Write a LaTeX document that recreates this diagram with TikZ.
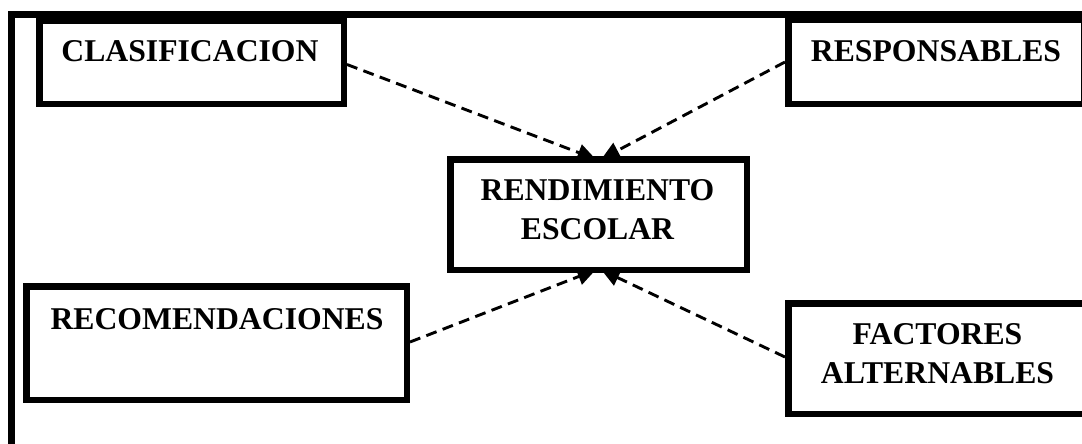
\documentclass[tikz,border=0pt]{standalone}
\usepackage{fontspec}
\setmainfont{Liberation Serif}
\usetikzlibrary{arrows.meta}
\begin{document}
\begin{tikzpicture}[x=1pt,y=-1pt,
  boxnode/.style={draw=black, line width=6.5pt, rectangle, inner sep=0pt},
  txt/.style={font=\bfseries\fontsize{31.7}{39}\selectfont, align=center, inner sep=0pt},
  conn/.style={draw=black, line width=2.9pt, dash pattern=on 11pt off 6.5pt,
    -{Triangle[length=18pt,width=17pt]}}]
\clip (0,0) rectangle (1082,444);
\fill[white] (0,0) rectangle (1082,444);
% outer frame
\draw[line width=7pt] (1100,14.5) -- (11.5,14.5) -- (11.5,460);
% boxes
\node[boxnode, minimum width=304.5pt, minimum height=82.5pt] (clas) at (191.5,62.5) {};
\node[boxnode, minimum width=295.5pt, minimum height=83.5pt] (resp) at (936,62) {};
\node[boxnode, minimum width=380.5pt, minimum height=113.5pt] (recom) at (216.5,343) {};
\node[boxnode, minimum width=298.5pt, minimum height=110.5pt] (fact) at (937.5,358.5) {};
\node[boxnode, minimum width=296.5pt, minimum height=110.5pt] (rend) at (598.5,214.5) {};
% texts
\node[txt] (clast) at (190,51) {CLASIFICACION};
\node[txt] (respt) at (936,51) {RESPONSABLES};
\node[txt] (recomt) at (217,319) {RECOMENDACIONES};
\node[txt] (factt) at (937.5,354) {FACTORES\\ALTERNABLES};
\node[txt] (rendt) at (597.5,210) {RENDIMIENTO\\ESCOLAR};
% connectors
\draw[conn] ([yshift=-2pt]clas.east) -- ([xshift=-3pt,yshift=-3pt]rend.north);
\draw[conn] (resp.west) -- ([xshift=3pt,yshift=-3pt]rend.north);
\draw[conn] ([yshift=1pt]recom.east) -- ([xshift=-3pt,yshift=3pt]rend.south);
\draw[conn] ([yshift=1.5pt]fact.west) -- ([xshift=3pt,yshift=3pt]rend.south);
\end{tikzpicture}
\end{document}
